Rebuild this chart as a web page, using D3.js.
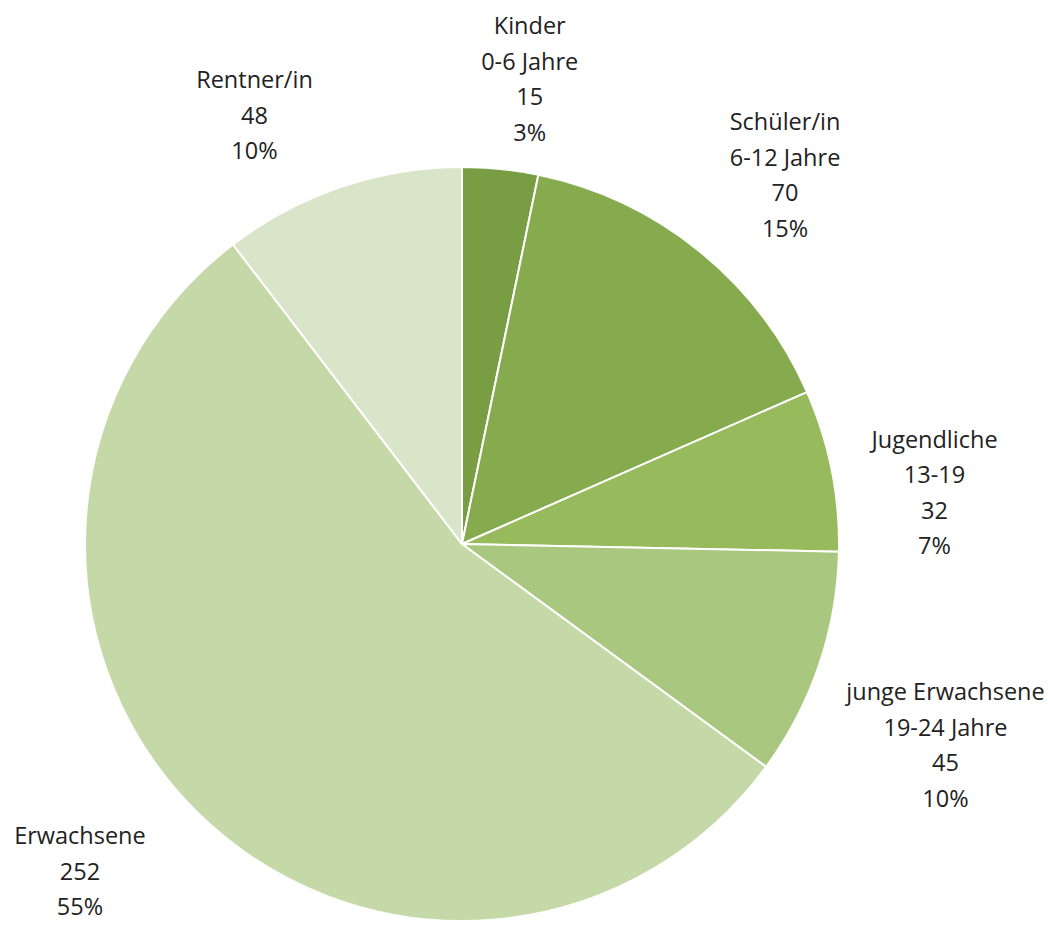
<!DOCTYPE html>
<html>
<head>
<meta charset="utf-8">
<script src="https://cdn.jsdelivr.net/npm/d3@7"></script>
<style>
  html, body { margin: 0; padding: 0; background: #ffffff; overflow: hidden; }
  svg { display: block; }
</style>
</head>
<body>
<script>
// ---- data ----
const categories = ["Kinder", "Schüler/in", "Jugendliche", "junge Erwachsene", "Erwachsene", "Rentner/in"];
const subLabels  = ["0-6 Jahre", "6-12 Jahre", "13-19", "19-24 Jahre", "", ""];
const values     = [15, 70, 32, 45, 252, 48];
const percentLabels = ["3%", "15%", "7%", "10%", "55%", "10%"];

// ---- styling / layout (not data) ----
const colors = ["#789d43", "#86aa4e", "#96ba5c", "#a9c77e", "#c5d9a8", "#d9e5c9"];
const W = 1048, H = 925;
const cx = 462, cy = 544, R = 377;
const labelRadius = 1.27;
const labelNudge = [[19, 12], [22, 4], [3, 43], [30, 48], [-47, -14], [-54, 25]];

const svg = d3.select("body").append("svg").attr("width", W).attr("height", H);
const g = svg.append("g").attr("transform", `translate(${cx},${cy})`);

const pie = d3.pie().sort(null).value(d => d.value);
const data = categories.map((c, i) => ({ name: c, sub: subLabels[i], value: values[i], pct: percentLabels[i], i }));
const arcs = pie(data);

const arc = d3.arc().innerRadius(0).outerRadius(R);
const labelArc = d3.arc().innerRadius(R * labelRadius).outerRadius(R * labelRadius);

g.selectAll("path.slice")
  .data(arcs)
  .join("path")
  .attr("class", "slice")
  .attr("d", arc)
  .attr("fill", d => colors[d.data.i])
  .attr("stroke", "#ffffff")
  .attr("stroke-width", 2)
  .attr("stroke-linejoin", "round");

const lineH = 35.5;
const labels = g.selectAll("text.lbl")
  .data(arcs)
  .join("text")
  .attr("class", "lbl")
  .attr("text-anchor", "middle")
  .attr("font-family", "'Open Sans', Lato, sans-serif")
  .attr("font-size", 23.5)
  .attr("fill", "#222222");

labels.each(function(d) {
  const [lx, ly] = labelArc.centroid(d);
  const nd = labelNudge[d.data.i];
  const lines = [d.data.name];
  if (d.data.sub) lines.push(d.data.sub);
  lines.push(String(d.data.value));
  lines.push(d.data.pct);
  const x = lx + nd[0];
  const y0 = ly + nd[1] - (lines.length - 1) * lineH / 2 + 8;
  d3.select(this).selectAll("tspan")
    .data(lines)
    .join("tspan")
    .attr("x", x)
    .attr("y", (t, k) => y0 + k * lineH)
    .text(t => t);
});
</script>
</body>
</html>
